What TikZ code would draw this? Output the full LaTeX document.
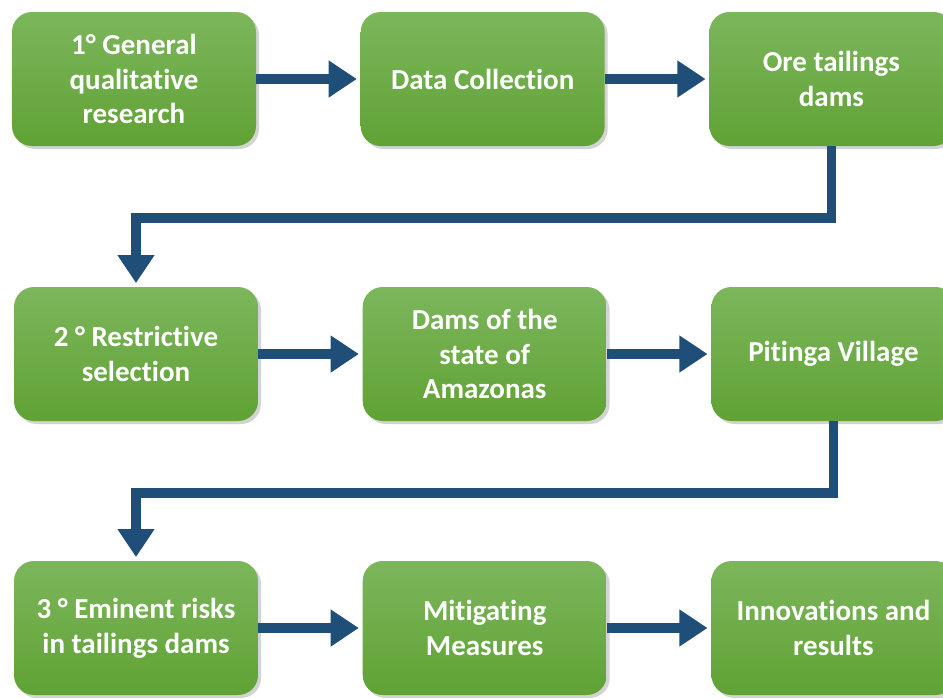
\documentclass[tikz,border=0pt]{standalone}
\usepackage{fontspec}
\setmainfont[Ligatures=NoCommon]{Carlito}
\usepackage{tikz}
\usetikzlibrary{positioning,arrows.meta,shadows}

\definecolor{boxtop}{RGB}{124,182,92}
\definecolor{boxbottom}{RGB}{96,162,52}
\definecolor{flowblue}{RGB}{31,78,121}

\begin{document}
\begin{tikzpicture}[node distance=2.84cm and 2.08cm,
  every node/.style = {shape=rectangle, rounded corners=0.4cm,
    align=center, minimum width=4.88cm, minimum height=2.68cm,
    top color=boxtop, bottom color=boxbottom,
    drop shadow={shadow xshift=0.06cm, shadow yshift=-0.06cm, opacity=0.35},
    text=white, font=\fontsize{16.5}{19.8}\selectfont\bfseries},
    flow/.style={draw=flowblue, line width=5.6pt,
      -{Triangle[length=16pt,width=20pt]}, shorten >=2pt}
    ]
  \useasboundingbox (0,0) rectangle (18.86,-13.96);
  % first row
  \node (general) at (2.68,-1.58) {1° General\\qualitative\\research};
  \node[right=of general] (collect) {Data Collection};
  \node[right=of collect] (ore) {Ore tailings\\dams};
  % second row
  \node (restrict) at (2.72,-7.08) {2 ° Restrictive\\selection};
  \node[right=of restrict] (amazonas) {Dams of the\\state of\\Amazonas};
  \node[right=of amazonas] (pitinga) {Pitinga Village};
  % third row
  \node (risks) at (2.72,-12.56) {3 ° Eminent risks\\in tailings dams};
  \node[right=of risks] (mitigate) {Mitigating\\Measures};
  \node[right=of mitigate] (results) {Innovations and\\results};

  \draw[flow] (general) -- (collect);
  \draw[flow] (collect) -- (ore);
  \draw[flow] (ore.south) -- ++(0,-1.44) -| (restrict.north);
  \draw[flow] (restrict) -- (amazonas);
  \draw[flow] (amazonas) -- (pitinga);
  \draw[flow] (pitinga.south) -- ++(0,-1.44) -| (risks.north);
  \draw[flow] (risks) -- (mitigate);
  \draw[flow] (mitigate) -- (results);
\end{tikzpicture}
\end{document}
